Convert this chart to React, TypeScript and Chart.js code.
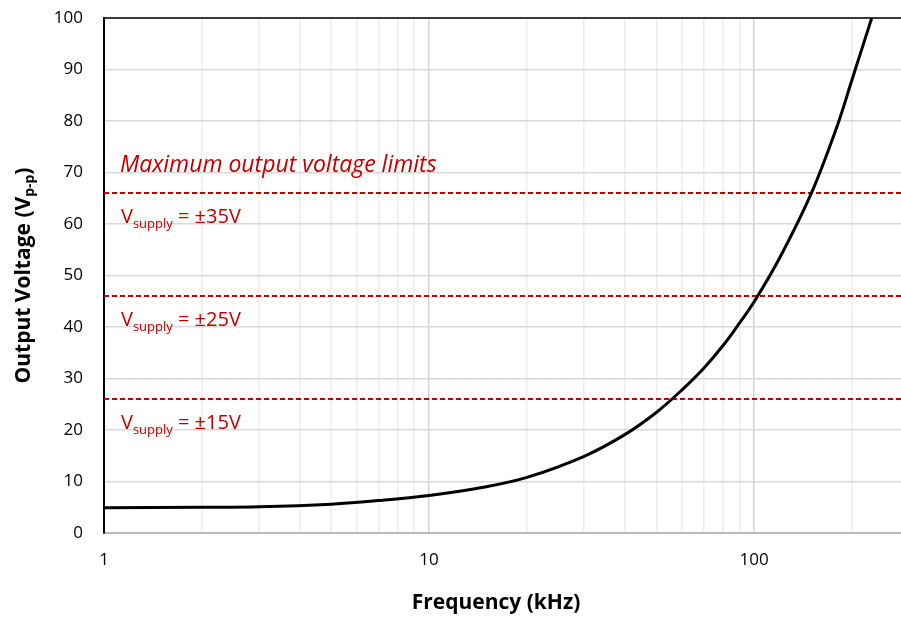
import React, { useEffect, useRef } from "react";
import { Chart, registerables } from "chart.js";

Chart.register(...registerables);

// Output swing vs. frequency
const freqKHz = [1, 2, 3, 5, 7, 10, 15, 20, 30, 40, 50, 60, 70, 80, 90, 100, 120, 150, 180, 200, 230];
const outputVpp = [4.9, 5.0, 5.1, 5.6, 6.3, 7.3, 9.0, 10.8, 14.9, 19.1, 23.4, 27.8, 32.0, 36.3, 40.7, 44.9, 53.5, 66, 79, 88, 100];

// Supply-limited maximum output levels
const limitVpp = [26, 46, 66];
const supplyLabels = ["±15V", "±25V", "±35V"];

// Axis ticks
const xGridTicks = [1, 2, 3, 4, 5, 6, 7, 8, 9, 10, 20, 30, 40, 50, 60, 70, 80, 90, 100, 200];
const xLabelTicks = [1, 10, 100];
const X_MIN = 1;
const X_MAX = 283;
const Y_MIN = 0;
const Y_MAX = 100;
const Y_STEP = 10;

const FONT = "'Open Sans', 'Noto Sans', sans-serif";
const RED = "#c00000";

type Part = { text: string; font: string; dy?: number };

function drawRich(ctx: CanvasRenderingContext2D, x: number, y: number, parts: Part[], align: "left" | "center") {
  let total = 0;
  for (const p of parts) {
    ctx.font = p.font;
    total += ctx.measureText(p.text).width;
  }
  let cx = align === "center" ? x - total / 2 : x;
  ctx.textBaseline = "alphabetic";
  ctx.textAlign = "left";
  for (const p of parts) {
    ctx.font = p.font;
    ctx.fillText(p.text, cx, y + (p.dy || 0));
    cx += ctx.measureText(p.text).width;
  }
}

const annotations = {
  id: "annotations",
  afterDraw(chart: any) {
    const { ctx, chartArea, scales } = chart;
    const ys = scales.y;
    ctx.save();

    // top frame line
    ctx.strokeStyle = "#000";
    ctx.lineWidth = 1.5;
    ctx.beginPath();
    ctx.moveTo(chartArea.left, chartArea.top);
    ctx.lineTo(chartArea.right, chartArea.top);
    ctx.stroke();

    // limit captions
    ctx.fillStyle = RED;
    const topLimit = Math.max(...limitVpp);
    drawRich(ctx, 120, ys.getPixelForValue(topLimit) - 21, [
      { text: "Maximum output voltage limits", font: `italic 23px ${FONT}` },
    ], "left");
    limitVpp.forEach((v, i) => {
      const base = ys.getPixelForValue(v) + 30;
      drawRich(ctx, 121, base, [
        { text: "V", font: `20px ${FONT}` },
        { text: "supply", font: `13px ${FONT}`, dy: 5 },
        { text: " = " + supplyLabels[i], font: `20px ${FONT}` },
      ], "left");
    });

    // axis titles
    ctx.fillStyle = "#000";
    drawRich(ctx, 496, 609, [
      { text: "Frequency (kHz)", font: `bold 21px ${FONT}` },
    ], "center");

    ctx.translate(30, (chartArea.top + chartArea.bottom) / 2);
    ctx.rotate(-Math.PI / 2);
    drawRich(ctx, 0, 0, [
      { text: "Output Voltage (V", font: `bold 21px ${FONT}` },
      { text: "p-p", font: `bold 14px ${FONT}`, dy: 4 },
      { text: ")", font: `bold 21px ${FONT}` },
    ], "center");
    ctx.restore();
  },
};

export default function App() {
  const ref = useRef<HTMLCanvasElement | null>(null);

  useEffect(() => {
    if (!ref.current) return;
    const curve = freqKHz.map((f, i) => ({ x: f, y: outputVpp[i] }));
    const limitSets = limitVpp.map((v) => ({
      data: [
        { x: X_MIN, y: v },
        { x: X_MAX, y: v },
      ],
      borderColor: RED,
      borderWidth: 2,
      borderDash: [5, 3],
      pointRadius: 0,
      fill: false,
    }));

    const chart = new Chart(ref.current, {
      type: "line",
      data: {
        datasets: [
          {
            data: curve,
            borderColor: "#000",
            borderWidth: 3,
            pointRadius: 0,
            tension: 0.35,
            fill: false,
          },
          ...limitSets,
        ],
      } as any,
      options: {
        animation: false,
        responsive: false,
        devicePixelRatio: 1,
        layout: { padding: { top: 18, right: 0, left: 0, bottom: 0 } },
        plugins: { legend: { display: false }, tooltip: { enabled: false } },
        scales: {
          x: {
            type: "logarithmic",
            min: X_MIN,
            max: X_MAX,
            afterBuildTicks: (scale: any) => {
              scale.ticks = xGridTicks.map((v) => ({ value: v, major: xLabelTicks.includes(v) }));
            },
            afterFit: (scale: any) => {
              scale.height = 84;
              scale.paddingLeft = 0;
              scale.paddingRight = 0;
            },
            ticks: {
              autoSkip: false,
              maxRotation: 0,
              padding: 17,
              color: "#000",
              font: { family: FONT, size: 17 },
              callback: (v: any) => (xLabelTicks.includes(Number(v)) ? String(v) : ""),
            },
            grid: {
              drawTicks: false,
              lineWidth: 1.5,
              color: (c: any) => (c.tick && xLabelTicks.includes(c.tick.value) ? "#d4d4d4" : "#eeeeee"),
            },
            border: { display: true, color: "#b8b8b8", width: 2 },
          },
          y: {
            min: Y_MIN,
            max: Y_MAX,
            afterFit: (scale: any) => {
              scale.width = 104;
              scale.paddingTop = 0;
              scale.paddingBottom = 0;
            },
            ticks: {
              stepSize: Y_STEP,
              padding: 21,
              color: "#000",
              font: { family: FONT, size: 17 },
            },
            grid: { drawTicks: false, color: "#d9d9d9", lineWidth: 1.5 },
            border: { display: true, color: "#000", width: 2 },
          },
        },
      } as any,
      plugins: [annotations],
    });
    return () => chart.destroy();
  }, []);

  return (
    <div style={{ position: "fixed", left: 0, top: 0, width: 901, height: 617, background: "#fff" }}>
      <canvas ref={ref} width={901} height={617} style={{ display: "block" }} />
    </div>
  );
}
